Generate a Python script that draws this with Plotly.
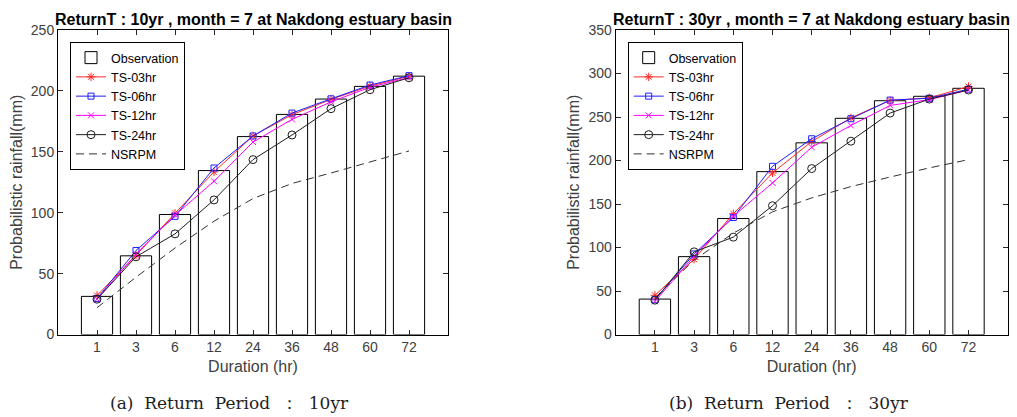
import plotly.graph_objects as go

durations = ["1", "3", "6", "12", "24", "36", "48", "60", "72"]

# Return period 10yr
obs_10 = [31.3, 64.6, 98.5, 134.6, 162.5, 180.7, 193.3, 203.7, 212.1]
ts03_10 = [32.0, 65.0, 99.5, 133.5, 163.0, 180.5, 193.0, 204.0, 212.0]
ts06_10 = [29.5, 69.0, 97.0, 136.7, 163.0, 181.8, 193.5, 204.8, 212.5]
ts12_10 = [29.0, 66.0, 98.0, 125.8, 158.0, 176.6, 191.0, 203.0, 211.0]
ts24_10 = [29.0, 63.8, 82.6, 110.5, 143.6, 163.8, 185.4, 201.0, 210.8]
nsrpm_10 = [22.0, 47.0, 71.0, 93.0, 111.6, 124.0, 132.6, 141.6, 150.7]

# Return period 30yr
obs_30 = [40.7, 89.5, 133.3, 187.2, 220.3, 248.5, 268.7, 273.8, 283.0]
ts03_30 = [45.0, 86.5, 138.8, 185.7, 221.8, 249.0, 269.0, 272.0, 285.0]
ts06_30 = [40.0, 92.6, 134.5, 193.3, 225.0, 248.0, 269.4, 271.5, 282.0]
ts12_30 = [38.0, 90.0, 136.0, 174.2, 215.2, 240.3, 263.3, 270.0, 281.0]
ts24_30 = [39.5, 95.0, 111.9, 148.0, 190.7, 222.2, 254.5, 270.6, 281.0]
nsrpm_30 = [42.0, 85.6, 116.5, 141.0, 157.0, 170.0, 181.0, 191.5, 201.0]

titles = ["ReturnT : 10yr , month = 7 at Nakdong estuary basin",
          "ReturnT : 30yr , month = 7 at Nakdong estuary basin"]
captions = ["(a)  Return  Period  \uff1a  10yr", "(b)  Return  Period  \uff1a  30yr"]
y_max = [250, 350]

W, H = 1017, 417
FONT = "Liberation Sans, Arial, sans-serif"

fig = go.Figure()

series_sets = [
    (obs_10, ts03_10, ts06_10, ts12_10, ts24_10, nsrpm_10),
    (obs_30, ts03_30, ts06_30, ts12_30, ts24_30, nsrpm_30),
]

styles = [
    ("TS-03hr", "rgb(255,40,40)", "asterisk-open", 7),
    ("TS-06hr", "rgb(30,30,255)", "square-open", 6),
    ("TS-12hr", "rgb(255,0,255)", "x-thin-open", 6),
    ("TS-24hr", "rgb(30,30,30)", "circle-open", 8),
]

for i, sets in enumerate(series_sets):
    xa = "x" if i == 0 else "x2"
    ya = "y" if i == 0 else "y2"
    lg = "legend" if i == 0 else "legend2"
    obs, t03, t06, t12, t24, ns = sets
    fig.add_trace(go.Bar(
        x=durations, y=obs, name="Observation", width=0.8,
        marker=dict(color="white", line=dict(color="black", width=1)),
        xaxis=xa, yaxis=ya, legend=lg))
    for (name, col, sym, sz), vals in zip(styles, [t03, t06, t12, t24]):
        fig.add_trace(go.Scatter(
            x=durations, y=vals, name=name, mode="lines+markers",
            line=dict(color=col, width=1),
            marker=dict(symbol=sym, size=sz, color=col, line=dict(color=col, width=1)),
            xaxis=xa, yaxis=ya, legend=lg))
    fig.add_trace(go.Scatter(
        x=durations, y=ns, name="NSRPM", mode="lines",
        line=dict(color="rgb(50,50,50)", width=1, dash="8px,5px"),
        xaxis=xa, yaxis=ya, legend=lg))

xdom = [[58 / W, 448 / W], [615.7 / W, 1007.7 / W]]
ydom = [1 - 334.5 / H, 1 - 30 / H]

axis_common = dict(
    showline=True, linecolor="black", linewidth=1, mirror="ticks",
    ticks="inside", ticklen=5, tickcolor="rgb(40,40,40)",
    showgrid=False, zeroline=False, automargin=False,
    tickfont=dict(family=FONT, size=14, color="rgb(64,64,64)"),
)

for i in range(2):
    sfx = "" if i == 0 else "2"
    fig.update_layout(**{
        f"xaxis{sfx}": dict(
            domain=xdom[i], type="category", range=[-1, 9],
            anchor=f"y{sfx}",
            title=dict(text="Duration (hr)", font=dict(family=FONT, size=16, color="rgb(64,64,64)"), standoff=6),
            **axis_common),
        f"yaxis{sfx}": dict(
            domain=ydom, range=[0, y_max[i]], dtick=50,
            anchor=f"x{sfx}",
            title=dict(text="Probabilistic rainfall(mm)", font=dict(family=FONT, size=16, color="rgb(64,64,64)"), standoff=4),
            **axis_common),
    })

annotations = []
for i in range(2):
    cx = (xdom[i][0] + xdom[i][1]) / 2
    annotations.append(dict(
        text=f"<b>{titles[i]}</b>", x=cx, y=1 - 19 / H, xref="paper", yref="paper",
        xanchor="center", yanchor="middle", showarrow=False,
        font=dict(family=FONT, size=16, color="black")))
    annotations.append(dict(
        text=captions[i], x=[229 / W, 788.7 / W][i], y=1 - 403 / H, xref="paper", yref="paper",
        xanchor="center", yanchor="middle", showarrow=False,
        font=dict(family="DejaVu Serif, Liberation Serif, serif", size=17, color="rgb(30,30,30)")))

legend_common = dict(
    xanchor="left", yanchor="top", bgcolor="white",
    bordercolor="black", borderwidth=1,
    font=dict(family=FONT, size=12.5, color="black"),
    tracegroupgap=0, itemwidth=30,
)

fig.update_layout(
    width=W, height=H,
    margin=dict(l=0, r=0, t=0, b=0),
    paper_bgcolor="white", plot_bgcolor="white",
    showlegend=True,
    barmode="overlay",
    legend=dict(x=70 / W, y=1 - 42 / H, **legend_common),
    legend2=dict(x=627.7 / W, y=1 - 42 / H, **legend_common),
    annotations=annotations,
)

fig.write_html("out.html", config={"displayModeBar": False},
               post_script="document.body.style.margin='0';")
